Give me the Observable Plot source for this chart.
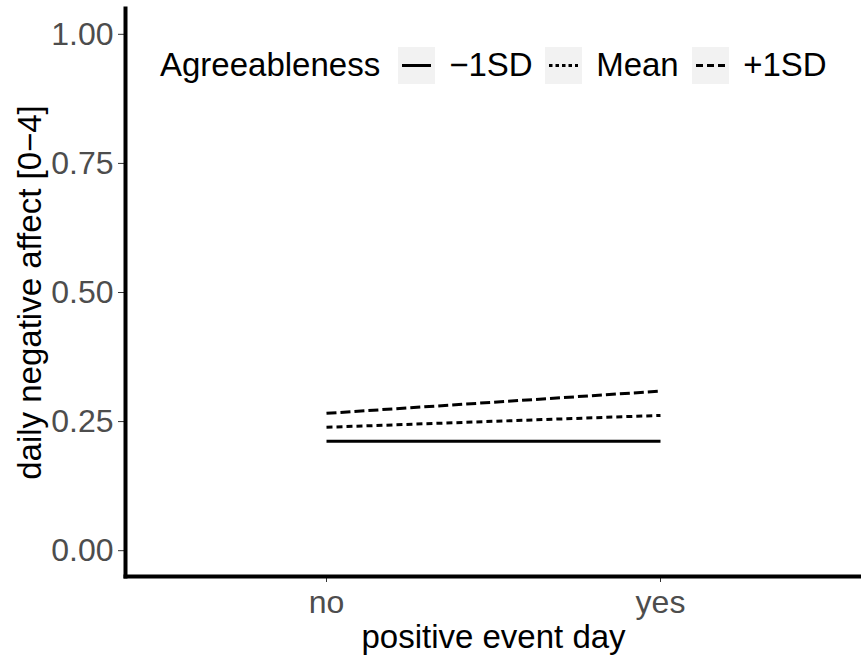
<!DOCTYPE html>
<html>
<head>
<meta charset="utf-8">
<script src="https://cdn.jsdelivr.net/npm/d3@7"></script>
<script src="https://cdn.jsdelivr.net/npm/@observablehq/plot@0.6"></script>
<style>
  html, body { margin: 0; padding: 0; background: #fff; }
  #wrap { position: relative; width: 861px; height: 655px; font-family: "Liberation Sans", Arial, sans-serif; }
  #legend { position: absolute; left: 160px; top: 46px; display: flex; align-items: center; font-size: 33px; color: #000; white-space: nowrap; }
  #legend .ttl { margin-right: 18px; }
  #legend .key { width: 37px; height: 37px; background: #f2f2f2; margin-right: 14px; display: block; flex: none; }
  #legend .lab { display: inline-block; width: 96px; }
</style>
</head>
<body>
<div id="wrap"></div>
<script>
// ---- data ----
const conditions = ["no", "yes"];
const groups = ["\u22121SD", "Mean", "+1SD"];
const lowSD  = [0.212, 0.212];
const meanSD = [0.239, 0.262];
const highSD = [0.266, 0.309];
const yTicks = [0, 0.25, 0.5, 0.75, 1];
const xTitle = "positive event day";
const yTitle = "daily negative affect [0\u22124]";
const legendTitle = "Agreeableness";

const seriesValues = [lowSD, meanSD, highSD];
const lineDash = [null, "6,4", "10,4"];
const keyDash = [null, "3.5,3", "7,4"];

const rows = groups.flatMap((g, gi) => conditions.map((c, ci) => ({group: g, cond: c, value: seriesValues[gi][ci]})));

const font = '"Liberation Sans", Arial, sans-serif';

const chart = Plot.plot({
  width: 861,
  height: 655,
  marginLeft: 125,
  marginRight: 0,
  marginTop: 8,
  marginBottom: 79,
  style: {fontFamily: font, background: "#fff", overflow: "visible"},
  x: {type: "point", domain: conditions, padding: 0.6, align: 0.5},
  y: {domain: [-0.05, 1.05]},
  marks: [
    Plot.axisY({ticks: yTicks, tickFormat: d3.format(".2f"), tickSize: 7, tickPadding: 5, fontSize: 32, fill: "#4d4d4d", stroke: "#333", label: null}),
    Plot.axisX({tickSize: 6, tickPadding: 8, fontSize: 32, fill: "#4d4d4d", stroke: "#333", label: null}),
    ...groups.map((g, gi) => Plot.line(rows.filter(d => d.group === g), {
      x: "cond", y: "value", stroke: "#000", strokeWidth: 3,
      strokeDasharray: lineDash[gi] ?? undefined, strokeLinecap: "butt"
    })),
    Plot.frame({anchor: "left", stroke: "#000", strokeWidth: 4}),
    Plot.frame({anchor: "bottom", stroke: "#000", strokeWidth: 4}),
    Plot.text([yTitle], {frameAnchor: "left", textAnchor: "middle", lineAnchor: "middle", rotate: -90, dx: -95, fontSize: 33, fill: "#000"}),
    Plot.text([xTitle], {frameAnchor: "bottom", textAnchor: "middle", lineAnchor: "middle", dy: 61, fontSize: 33, fill: "#000"})
  ]
});

const wrap = document.getElementById("wrap");
wrap.appendChild(chart);

// legend
const leg = document.createElement("div");
leg.id = "legend";
const t = document.createElement("span");
t.className = "ttl"; t.textContent = legendTitle;
leg.appendChild(t);
groups.forEach((g, gi) => {
  const svg = d3.create("svg").attr("class", "key").attr("width", 37).attr("height", 37);
  svg.append("line").attr("x1", 4).attr("x2", 33).attr("y1", 18.5).attr("y2", 18.5)
    .attr("stroke", "#000").attr("stroke-width", 3)
    .attr("stroke-dasharray", keyDash[gi]);
  leg.appendChild(svg.node());
  const l = document.createElement("span");
  l.className = "lab"; l.textContent = g;
  leg.appendChild(l);
});
wrap.appendChild(leg);
</script>
</body>
</html>
